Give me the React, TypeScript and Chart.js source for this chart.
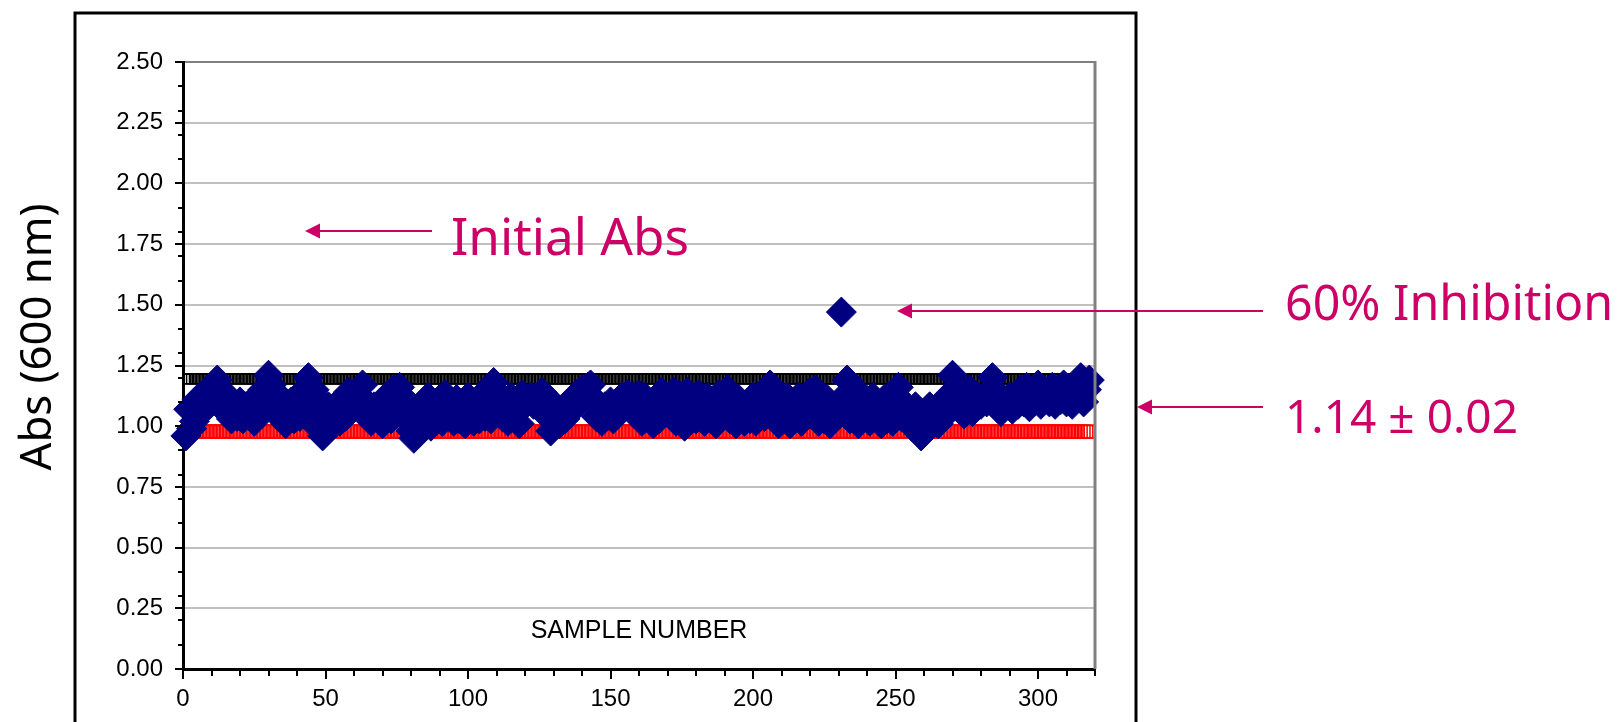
import React, { useEffect, useRef } from 'react';
import { Chart, registerables } from 'chart.js';

Chart.register(...registerables);

// Absorbance (600 nm) of each sample, sample numbers 1..318
const absValues: number[] = [
  0.96, 1.07, 0.99, 1.02, 1.11, 1.05, 1.13, 1.09, 1.15, 1.10,
  1.16, 1.19, 1.10, 1.14, 1.06, 1.12, 1.03, 1.09, 1.04, 1.10,
  1.03, 1.08, 1.05, 1.10, 1.02, 1.12, 1.08, 1.15, 1.10, 1.21,
  1.17, 1.06, 1.13, 1.04, 1.11, 1.01, 1.07, 1.10, 1.03, 1.12,
  1.04, 1.14, 1.08, 1.20, 1.02, 1.15, 1.06, 1.10, 0.96, 1.05,
  1.08, 1.01, 1.06, 1.09, 1.02, 1.07, 1.04, 1.14, 1.08, 1.11,
  1.13, 1.10, 1.17, 1.06, 1.09, 1.02, 1.08, 1.04, 1.09, 1.01,
  1.06, 1.13, 1.03, 1.15, 1.09, 1.16, 1.08, 1.11, 1.02, 0.98,
  0.95, 1.06, 1.01, 1.08, 1.03, 1.12, 1.00, 1.08, 1.04, 1.11,
  1.02, 1.13, 1.07, 1.10, 1.02, 1.11, 1.03, 1.07, 1.01, 1.12,
  1.07, 1.02, 1.10, 1.03, 1.13, 1.04, 1.11, 1.03, 1.18, 1.08,
  1.13, 1.04, 1.09, 1.02, 1.12, 1.05, 1.09, 1.01, 1.13, 1.09,
  1.10, 1.12, 1.09, 1.11, 1.10, 1.14, 1.05, 1.09, 0.98, 1.04,
  1.08, 1.01, 1.07, 1.03, 1.09, 1.06, 1.10, 1.13, 1.11, 1.15,
  1.12, 1.16, 1.17, 1.10, 1.04, 1.09, 1.02, 1.08, 1.05, 1.10,
  1.03, 1.08, 1.10, 1.12, 1.09, 1.13, 1.10, 1.12, 1.05, 1.13,
  1.02, 1.12, 1.04, 1.09, 1.01, 1.11, 1.03, 1.14, 1.06, 1.12,
  1.07, 1.14, 1.02, 1.13, 1.08, 1.00, 1.14, 1.05, 1.10, 1.03,
  1.13, 1.06, 1.02, 1.12, 1.04, 1.08, 1.01, 1.13, 1.05, 1.09,
  1.15, 1.03, 1.07, 1.01, 1.11, 1.07, 1.02, 1.06, 1.03, 1.12,
  1.02, 1.06, 1.09, 1.04, 1.13, 1.17, 1.08, 1.12, 1.01, 1.07,
  1.03, 1.12, 1.01, 1.06, 1.04, 1.12, 1.02, 1.07, 1.05, 1.14,
  1.08, 1.15, 1.02, 1.07, 1.03, 1.11, 1.01, 1.07, 1.04, 1.10,
  1.47, 1.10, 1.19, 1.03, 1.12, 1.06, 1.01, 1.13, 1.05, 1.09,
  1.02, 1.12, 1.04, 1.07, 1.01, 1.11, 1.03, 1.08, 1.02, 1.13,
  1.16, 1.04, 1.09, 1.02, 1.07, 1.03, 1.08, 0.99, 0.96, 1.05,
  1.02, 1.08, 1.03, 1.07, 1.01, 1.08, 1.04, 1.12, 1.09, 1.21,
  1.14, 1.10, 1.12, 1.05, 1.11, 1.15, 1.06, 1.10, 1.12, 1.09,
  1.12, 1.10, 1.14, 1.20, 1.09, 1.13, 1.06, 1.11, 1.09, 1.12,
  1.07, 1.11, 1.09, 1.15, 1.10, 1.16, 1.08, 1.14, 1.11, 1.17,
  1.09, 1.15, 1.12, 1.10, 1.16, 1.09, 1.14, 1.11, 1.17, 1.10,
  1.14, 1.09, 1.16, 1.12, 1.20, 1.10, 1.15, 1.19,
];

const upperLimit = 1.195;
const meanLevel = 1.105;
const lowerLimit = 0.978;

const yMin = 0;
const yMax = 2.5;
const yStep = 0.25;
const xMin = 0;
const xMax = 320;
const xTickValues = [0, 50, 100, 150, 200, 250, 300];

const xAxisTitle = 'SAMPLE NUMBER';
const yAxisTitle = 'Abs (600 nm)';
const noteInitial = 'Initial Abs';
const noteInhibition = '60% Inhibition';
const noteMean = '1.14 ± 0.02';

const sampleNumbers = absValues.map((_, i) => i + 1);

const MAGENTA = '#CC0066';

function fitFont(ctx: CanvasRenderingContext2D, text: string, family: string, width: number) {
  ctx.font = `40px ${family}`;
  const w = ctx.measureText(text).width;
  const size = (40 * width) / w;
  return `${size.toFixed(2)}px ${family}`;
}

function arrow(ctx: CanvasRenderingContext2D, x1: number, y: number, tipX: number) {
  ctx.save();
  ctx.strokeStyle = MAGENTA;
  ctx.fillStyle = MAGENTA;
  ctx.lineWidth = 2;
  ctx.beginPath();
  ctx.moveTo(x1, y);
  ctx.lineTo(tipX + 12, y);
  ctx.stroke();
  ctx.beginPath();
  ctx.moveTo(tipX, y);
  ctx.lineTo(tipX + 15, y - 7.5);
  ctx.lineTo(tipX + 15, y + 7.5);
  ctx.closePath();
  ctx.fill();
  ctx.restore();
}

const framePlugin = {
  id: 'frame',
  afterDraw(chart: any) {
    const ctx: CanvasRenderingContext2D = chart.ctx;
    const { left, right, top, bottom } = chart.chartArea;
    const xs = chart.scales.x;
    const ys = chart.scales.y;
    ctx.save();
    // right plot border
    ctx.strokeStyle = '#808080';
    ctx.lineWidth = 3;
    ctx.beginPath();
    ctx.moveTo(right, top - 1);
    ctx.lineTo(right, bottom);
    ctx.stroke();

    // y ticks: major 0.25, minor 0.1
    ctx.strokeStyle = '#000';
    ctx.lineWidth = 2;
    for (let k = 0; k <= 50; k++) {
      const major = k % 5 === 0;
      const minor = k % 2 === 0;
      if (!major && !minor) continue;
      const len = major ? 8 : 5;
      const y = Math.round(ys.getPixelForValue(k * 0.05));
      ctx.beginPath();
      ctx.moveTo(left - len, y);
      ctx.lineTo(left, y);
      ctx.stroke();
    }
    // x ticks: major 50, minor 10
    for (let k = 0; k <= 32; k++) {
      const major = k % 5 === 0;
      const len = major ? 10 : 7;
      const x = Math.round(xs.getPixelForValue(k * 10));
      ctx.beginPath();
      ctx.moveTo(x, bottom);
      ctx.lineTo(x, bottom + len);
      ctx.stroke();
    }

    // x axis title inside plot
    ctx.fillStyle = '#000';
    ctx.font = '25px "Liberation Sans"';
    ctx.textAlign = 'center';
    ctx.textBaseline = 'middle';
    ctx.fillText(xAxisTitle, (left + right) / 2, 631);

    // outer frame
    ctx.strokeStyle = '#000';
    ctx.lineWidth = 3;
    ctx.beginPath();
    ctx.moveTo(75, 740);
    ctx.lineTo(75, 13);
    ctx.lineTo(1136, 13);
    ctx.lineTo(1136, 740);
    ctx.stroke();

    // y axis title
    ctx.save();
    ctx.translate(39, 337);
    ctx.rotate(-Math.PI / 2);
    ctx.font = fitFont(ctx, yAxisTitle, '"Noto Sans"', 267);
    ctx.fillStyle = '#000';
    ctx.textAlign = 'center';
    ctx.textBaseline = 'middle';
    ctx.fillText(yAxisTitle, 0, 0);
    ctx.restore();

    // annotations
    ctx.fillStyle = MAGENTA;
    ctx.textAlign = 'left';
    ctx.textBaseline = 'alphabetic';
    ctx.font = fitFont(ctx, noteInitial, '"Noto Sans"', 238);
    ctx.fillText(noteInitial, 451, 255);
    ctx.font = fitFont(ctx, noteInhibition, '"Noto Sans"', 328);
    ctx.fillText(noteInhibition, 1285, 320);
    ctx.font = fitFont(ctx, noteMean, '"Noto Sans"', 233);
    ctx.fillText(noteMean, 1285, 433);

    arrow(ctx, 432, 231, 305);
    arrow(ctx, 1263, 311, 897);
    arrow(ctx, 1263, 407, 1137);
    ctx.restore();
  },
};

export default function App() {
  const ref = useRef<HTMLCanvasElement | null>(null);

  useEffect(() => {
    if (!ref.current) return;
    const absPoints = absValues.map((v, i) => ({ x: sampleNumbers[i], y: v }));
    const upperPoints = sampleNumbers.map((s) => ({ x: s, y: upperLimit }));
    const meanPoints = sampleNumbers.map((s) => ({ x: s, y: meanLevel }));
    const lowerPoints = sampleNumbers.map((s) => ({ x: s, y: lowerLimit }));

    const chart = new Chart(ref.current, {
      type: 'scatter',
      data: {
        datasets: [
          {
            label: 'Abs',
            data: absPoints,
            pointStyle: 'rectRot',
            pointRadius: 15,
            pointBackgroundColor: '#000080',
            pointBorderColor: '#000080',
            pointBorderWidth: 1,
            showLine: false,
            clip: false,
          } as any,
          {
            label: 'Mean',
            data: meanPoints,
            showLine: true,
            borderColor: '#000000',
            borderWidth: 3,
            pointRadius: 0,
          },
          {
            label: 'Upper',
            data: upperPoints,
            pointStyle: 'rect',
            pointRadius: 7,
            pointBackgroundColor: 'rgba(0,0,0,0)',
            pointBorderColor: '#000000',
            pointBorderWidth: 1.5,
            showLine: false,
          },
          {
            label: 'Lower',
            data: lowerPoints,
            pointStyle: 'rect',
            pointRadius: 9,
            pointBackgroundColor: 'rgba(0,0,0,0)',
            pointBorderColor: '#FF0000',
            pointBorderWidth: 1.5,
            showLine: false,
          },
        ],
      },
      options: {
        animation: false,
        responsive: false,
        maintainAspectRatio: false,
        layout: { padding: { left: 73, top: 62, right: 525, bottom: 0 } },
        plugins: { legend: { display: false }, tooltip: { enabled: false } },
        scales: {
          x: {
            type: 'linear',
            min: xMin,
            max: xMax,
            afterFit: (s: any) => {
              s.height = 53;
            },
            afterBuildTicks: (s: any) => {
              s.ticks = xTickValues.map((v) => ({ value: v }));
            },
            ticks: {
              autoSkip: false,
              maxRotation: 0,
              padding: 16,
              color: '#000',
              font: { family: '"Liberation Sans"', size: 24 },
              callback: (v: any) => String(v),
            },
            grid: { display: false, drawTicks: false },
            border: { color: '#000', width: 3 },
          },
          y: {
            min: yMin,
            max: yMax,
            afterFit: (s: any) => {
              s.width = 110;
            },
            ticks: {
              stepSize: yStep,
              padding: 20,
              color: '#000',
              font: { family: '"Liberation Sans"', size: 24 },
              callback: (v: any) => Number(v).toFixed(2),
            },
            grid: {
              drawTicks: false,
              lineWidth: 2,
              color: (c: any) => (c.tick && c.tick.value === yMax ? '#808080' : '#C0C0C0'),
            },
            border: { color: '#000', width: 3 },
          },
        },
      },
      plugins: [framePlugin],
    });
    return () => chart.destroy();
  }, []);

  return (
    <div style={{ position: 'fixed', left: 0, top: 0, width: 1620, height: 722, background: '#fff' }}>
      <canvas ref={ref} width={1620} height={722} style={{ display: 'block' }} />
    </div>
  );
}
